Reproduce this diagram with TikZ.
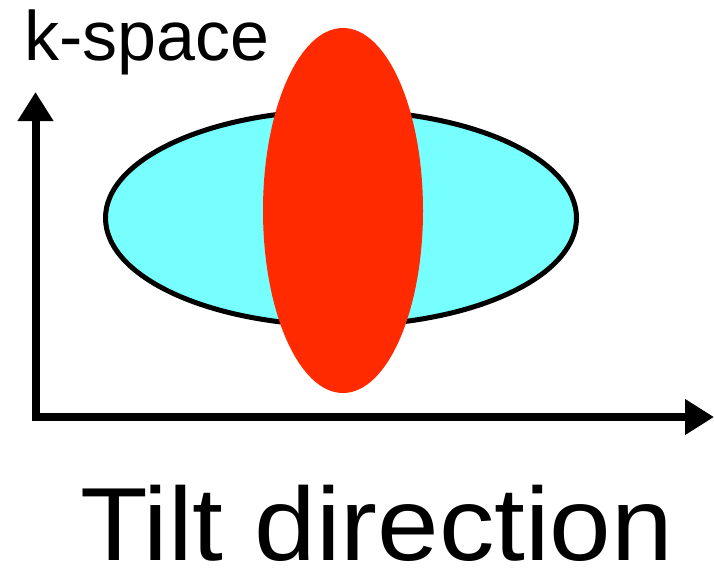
\documentclass[tikz,border=0pt]{standalone}
\usepackage{fontspec}
\setmainfont{Liberation Sans}
\newfontfamily\widefont[FakeStretch=1.065]{Liberation Sans}
\usetikzlibrary{shapes.geometric, arrows.meta, positioning}
\definecolor{kcyan}{RGB}{119,255,255}
\definecolor{tiltred}{RGB}{255,42,0}

\begin{document}
\begin{tikzpicture}[x=1pt, y=-1pt,
    Axis/.tip={Triangle[length=29pt, width=34pt]},
    axis/.style={line width=8pt, line join=miter, Axis-Axis},
    blob/.style={ellipse, inner sep=0pt, outer sep=0pt},
    title/.style={inner sep=0pt, anchor=base west}]
    \useasboundingbox (0,0) rectangle (714,570);

    \node[blob, draw, line width=5pt, fill=kcyan, minimum width=471pt, minimum height=215pt] (wide) at (341,218) {};
    \node[blob, fill=tiltred, minimum width=160pt, minimum height=365pt] (tall) at (343,210.5) {};

    \coordinate (origin) at (35.5,417);
    \coordinate (ktop) at (35.5,92);
    \coordinate (tiltend) at (714,417);
    \draw[axis] (ktop) -- (origin) -- (tiltend);

    \node[title, font=\fontsize{70}{80}\selectfont] (kspace) at (24,60) {k-space};
    \node[title, font=\widefont\fontsize{104}{120}\selectfont] (tilt) at (80,560) {Tilt direction};

\end{tikzpicture}
\end{document}
